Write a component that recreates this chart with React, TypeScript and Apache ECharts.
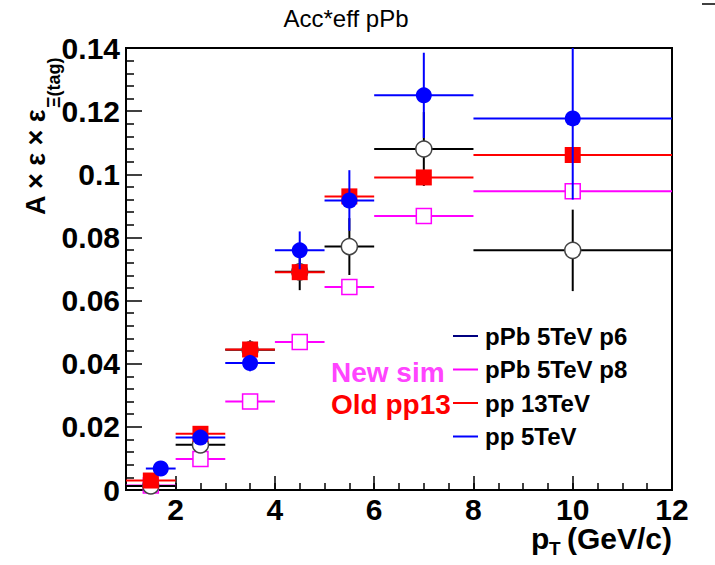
import React, { useEffect, useRef } from 'react';
import * as echarts from 'echarts';

// ---- data ----
const binX = [1.5, 2.5, 3.5, 4.5, 5.5, 7, 10];
const binHalfWidth = [0.5, 0.5, 0.5, 0.5, 0.5, 1, 2];
const pp5X = [1.7, 2.5, 3.5, 4.5, 5.5, 7, 10];
const pp5HalfWidth = [0.3, 0.5, 0.5, 0.5, 0.5, 1, 2];

const pPbP6 = [0.0013, 0.0143, 0.0444, 0.0691, 0.0771, 0.108, 0.0759];
const pPbP6Err = [0.0005, 0.0015, 0.003, 0.0058, 0.009, 0.0117, 0.0129];
const pPbP8 = [0.0014, 0.0098, 0.028, 0.0469, 0.0643, 0.0868, 0.0946];
const pPbP8Err = [0.0003, 0.0005, 0.0008, 0.001, 0.001, 0.0012, 0.0012];
const pp13 = [0.003, 0.0178, 0.0445, 0.069, 0.093, 0.099, 0.1061];
const pp13Err = [0.001, 0.001, 0.001, 0.0015, 0.0015, 0.0018, 0.0018];
const pp5 = [0.0068, 0.0166, 0.0402, 0.0759, 0.0917, 0.125, 0.1177];
const pp5Err = [0.001, 0.0015, 0.0026, 0.006, 0.0096, 0.0135, 0.0257];

const xTickLabels = [2, 4, 6, 8, 10, 12];
const legendLabels = ['pPb 5TeV p6', 'pPb 5TeV p8', 'pp 13TeV', 'pp 5TeV'];
const legendColors = ['#000080', '#ff00ff', '#ff0000', '#0000ff'];

const FONT = 'Liberation Sans, Arial, Helvetica, sans-serif';

type MarkerKind = 'circleOpen' | 'circleFilled' | 'squareOpen' | 'squareFilled';

function rows(xs: number[], hws: number[], ys: number[], errs: number[]) {
  return xs.map((x, i) => [x, ys[i], hws[i], errs[i]]);
}

function makeRender(kind: MarkerKind, color: string, markerStroke: string) {
  return (params: any, api: any) => {
    const x = api.value(0);
    const y = api.value(1);
    const hw = api.value(2);
    const e = api.value(3);
    const cs = params.coordSys;
    const c = api.coord([x, y]);
    const l = api.coord([x - hw, y]);
    const r = api.coord([x + hw, y]);
    const t = api.coord([x, y + e]);
    const b = api.coord([x, y - e]);
    const clampY = (v: number) => Math.max(cs.y, Math.min(cs.y + cs.height, v));
    const clampX = (v: number) => Math.max(cs.x, Math.min(cs.x + cs.width, v));
    const children: any[] = [
      { type: 'line', shape: { x1: clampX(l[0]), y1: c[1], x2: clampX(r[0]), y2: c[1] }, style: { stroke: color, lineWidth: 2 } },
      { type: 'line', shape: { x1: c[0], y1: clampY(t[1]), x2: c[0], y2: clampY(b[1]) }, style: { stroke: color, lineWidth: 2 } },
    ];
    const s = 8;
    if (kind === 'circleOpen') {
      children.push({ type: 'circle', shape: { cx: c[0], cy: c[1], r: s }, style: { fill: '#fff', stroke: markerStroke, lineWidth: 1.5 } });
    } else if (kind === 'circleFilled') {
      children.push({ type: 'circle', shape: { cx: c[0], cy: c[1], r: s }, style: { fill: markerStroke } });
    } else if (kind === 'squareOpen') {
      children.push({ type: 'rect', shape: { x: c[0] - s + 0.5, y: c[1] - s + 0.5, width: 2 * s - 1, height: 2 * s - 1 }, style: { fill: '#fff', stroke: markerStroke, lineWidth: 1.5 } });
    } else {
      children.push({ type: 'rect', shape: { x: c[0] - s, y: c[1] - s, width: 2 * s, height: 2 * s }, style: { fill: markerStroke } });
    }
    return { type: 'group', children };
  };
}

export default function App() {
  const ref = useRef<HTMLDivElement>(null);
  useEffect(() => {
    if (!ref.current) return;
    const chart = echarts.init(ref.current, null, { renderer: 'svg' });
    const axisLineStyle = { color: '#000', width: 2 };
    const legendY0 = 336;
    const legendDy = 33.5;
    const legendGraphics: any[] = [];
    legendLabels.forEach((lab, i) => {
      const y = legendY0 + i * legendDy;
      legendGraphics.push({ type: 'line', shape: { x1: 453, y1: y, x2: 478, y2: y }, style: { stroke: legendColors[i], lineWidth: 2 } });
      legendGraphics.push({ type: 'text', x: 485, y: y, style: { text: lab, fill: '#000', font: `bold 24px ${FONT}`, textAlign: 'left', textVerticalAlign: 'middle' } });
    });
    chart.setOption({
      animation: false,
      backgroundColor: '#fff',
      grid: { left: 126, right: 43, top: 48, bottom: 75, show: true, borderColor: '#000', borderWidth: 2, backgroundColor: 'transparent' },
      xAxis: [
        {
          type: 'value', min: 1, max: 12, interval: 0.5, position: 'bottom',
          axisLine: { show: true, lineStyle: axisLineStyle },
          axisTick: { show: true, inside: true, length: 7, lineStyle: { color: '#000', width: 1.5 } },
          axisLabel: { show: false },
          splitLine: { show: false },
        },
        {
          type: 'value', min: 1, max: 12, position: 'bottom',
          axisLine: { show: false },
          axisTick: { show: true, inside: true, length: 14, customValues: xTickLabels, lineStyle: { color: '#000', width: 1.5 } },
          axisLabel: { show: true, customValues: xTickLabels, fontSize: 30, fontWeight: 'bold', fontFamily: FONT, color: '#000', margin: 4 },
          splitLine: { show: false },
        },
      ],
      yAxis: {
        type: 'value', min: 0, max: 0.14, interval: 0.02,
        axisLine: { show: true, lineStyle: axisLineStyle },
        axisTick: { show: true, inside: true, length: 16, lineStyle: { color: '#000', width: 1.5 } },
        minorTick: { show: true, splitNumber: 5, length: 8, lineStyle: { color: '#000', width: 1.5 } },
        axisLabel: {
          fontSize: 30, fontWeight: 'bold', fontFamily: FONT, color: '#000', margin: 6,
          formatter: (v: number) => (v === 0 ? '0' : String(+v.toFixed(2))),
        },
        splitLine: { show: false },
      },
      series: [
        { type: 'custom', name: legendLabels[1], xAxisIndex: 0, renderItem: makeRender('squareOpen', '#ff00ff', '#ff00ff'), data: rows(binX, binHalfWidth, pPbP8, pPbP8Err), encode: { x: 0, y: 1 }, z: 2 },
        { type: 'custom', name: legendLabels[0], xAxisIndex: 0, renderItem: makeRender('circleOpen', '#000000', '#444444'), data: rows(binX, binHalfWidth, pPbP6, pPbP6Err), encode: { x: 0, y: 1 }, z: 3 },
        { type: 'custom', name: legendLabels[2], xAxisIndex: 0, renderItem: makeRender('squareFilled', '#ff0000', '#ff0000'), data: rows(binX, binHalfWidth, pp13, pp13Err), encode: { x: 0, y: 1 }, z: 4 },
        { type: 'custom', name: legendLabels[3], xAxisIndex: 0, renderItem: makeRender('circleFilled', '#0000ff', '#0000ff'), data: rows(pp5X, pp5HalfWidth, pp5, pp5Err), encode: { x: 0, y: 1 }, z: 5 },
      ],
      graphic: [
        { type: 'text', x: 346, y: 18, style: { text: 'Acc*eff pPb', fill: '#000', font: `24px ${FONT}`, textAlign: 'center', textVerticalAlign: 'middle' } },
        { type: 'line', shape: { x1: 702, y1: 4, x2: 715, y2: 4 }, style: { stroke: '#000', lineWidth: 1.5 } },
        // y-axis title (rotated)
        { type: 'text', x: 36, y: 215, rotation: Math.PI / 2, style: { text: 'A × ε × ε', fill: '#000', font: `bold 27px ${FONT}`, textAlign: 'left', textVerticalAlign: 'middle' } },
        { type: 'text', x: 54, y: 108, rotation: Math.PI / 2, style: { text: 'Ξ(tag)', fill: '#000', font: `bold 18px ${FONT}`, textAlign: 'left', textVerticalAlign: 'middle' } },
        // x-axis title
        { type: 'text', x: 672, y: 538, style: { text: '(GeV/c)', fill: '#000', font: `bold 30px ${FONT}`, textAlign: 'right', textVerticalAlign: 'middle' } },
        { type: 'text', x: 531, y: 538, style: { text: 'p', fill: '#000', font: `bold 30px ${FONT}`, textAlign: 'left', textVerticalAlign: 'middle' } },
        { type: 'text', x: 549, y: 548, style: { text: 'T', fill: '#000', font: `bold 19px ${FONT}`, textAlign: 'left', textVerticalAlign: 'middle' } },
        // annotations
        { type: 'text', x: 331, y: 372, style: { text: 'New sim', fill: '#ff44ff', font: `bold 28px ${FONT}`, textAlign: 'left', textVerticalAlign: 'middle' } },
        { type: 'text', x: 331, y: 404, style: { text: 'Old pp13', fill: '#ff0000', font: `bold 28px ${FONT}`, textAlign: 'left', textVerticalAlign: 'middle' } },
        ...legendGraphics,
      ],
    });
    return () => chart.dispose();
  }, []);
  return <div ref={ref} style={{ position: 'fixed', left: 0, top: 0, width: 715, height: 565, background: '#fff' }} />;
}
